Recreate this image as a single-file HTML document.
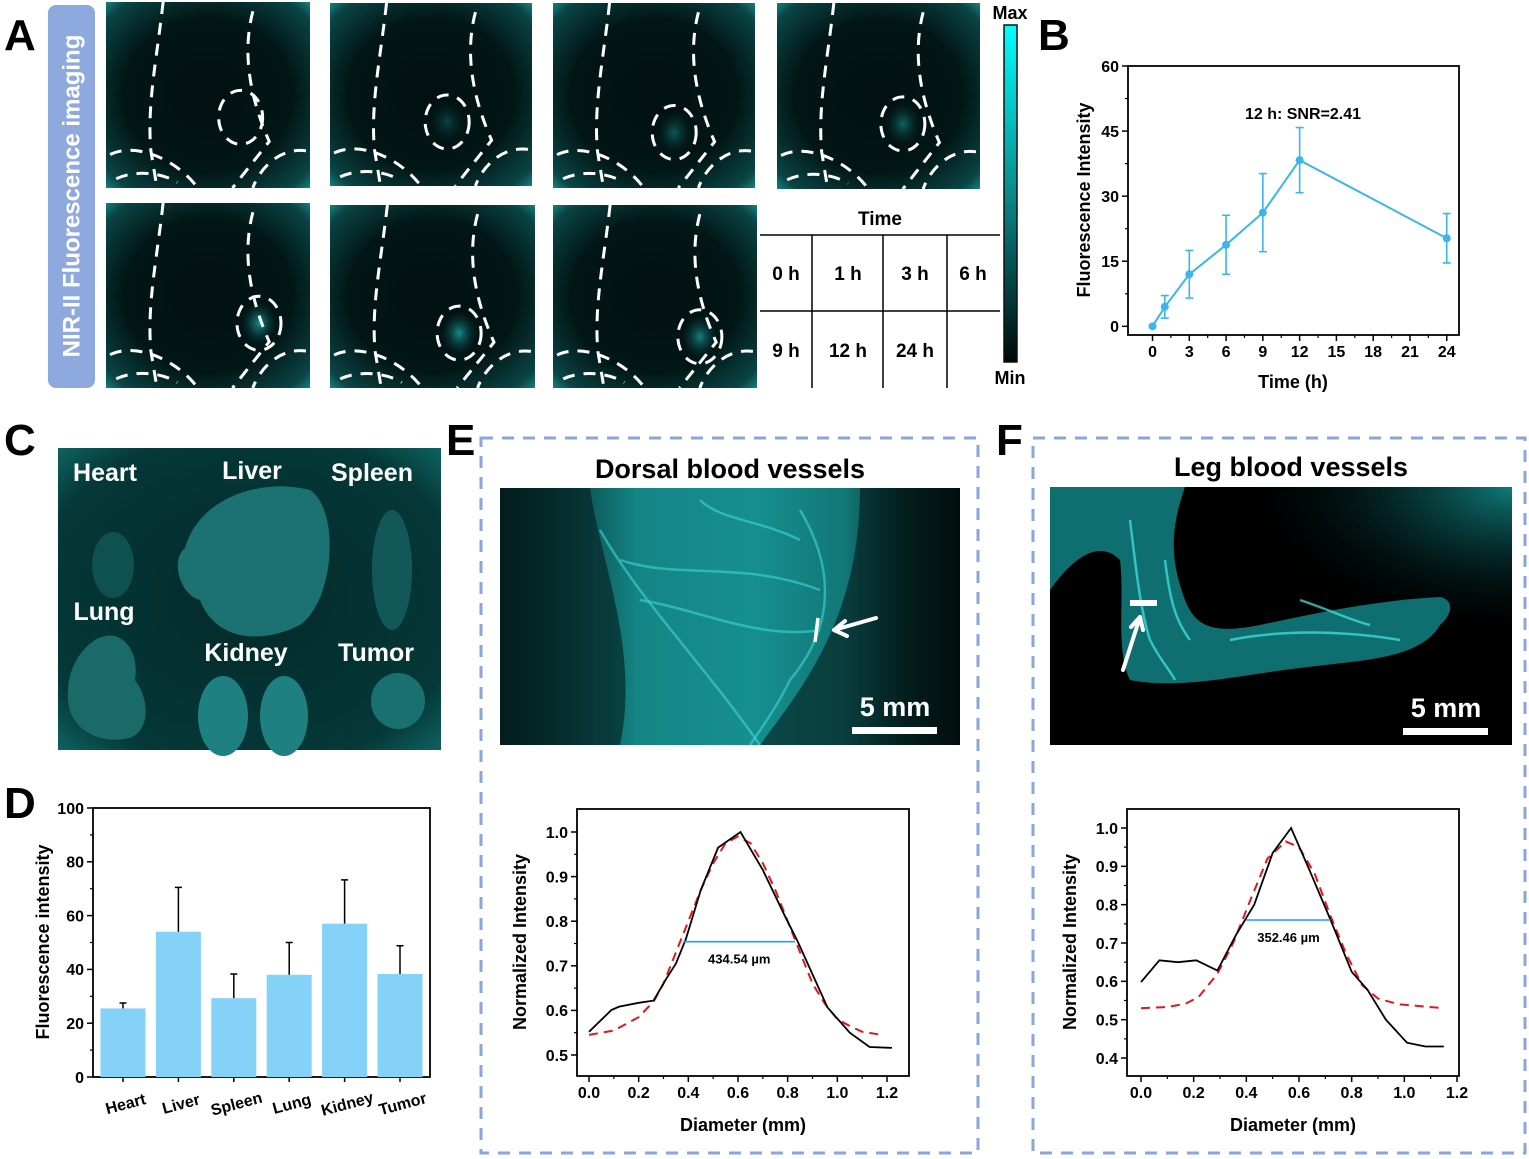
<!DOCTYPE html>
<html><head><meta charset="utf-8">
<style>
html,body{margin:0;padding:0;background:#fff;}
svg{display:block;font-family:"Liberation Sans",Arial,sans-serif;}
</style></head>
<body>
<svg id="fig" width="1529" height="1159" viewBox="0 0 1529 1159" xmlns="http://www.w3.org/2000/svg">
<defs>
  <radialGradient id="mouseGlow" cx="50%" cy="50%" r="75%">
    <stop offset="0" stop-color="#011010"/>
    <stop offset="0.55" stop-color="#021616"/>
    <stop offset="0.85" stop-color="#0a4444"/>
    <stop offset="1" stop-color="#19a8a8"/>
  </radialGradient>
  <radialGradient id="tumorGlow" cx="50%" cy="50%" r="50%">
    <stop offset="0" stop-color="#1a9a9a"/>
    <stop offset="1" stop-color="#0a3a3a" stop-opacity="0"/>
  </radialGradient>
  <linearGradient id="cbar" x1="0" y1="0" x2="0" y2="1">
    <stop offset="0" stop-color="#00ffff"/>
    <stop offset="0.5" stop-color="#0a8a8a"/>
    <stop offset="1" stop-color="#000808"/>
  </linearGradient>
  <radialGradient id="organBg" cx="50%" cy="50%" r="70%">
    <stop offset="0" stop-color="#032a2a"/>
    <stop offset="0.8" stop-color="#053838"/>
    <stop offset="1" stop-color="#0f6060"/>
  </radialGradient>
  <linearGradient id="dorsalBg" x1="0" y1="0" x2="1" y2="0">
    <stop offset="0" stop-color="#041e1e"/>
    <stop offset="0.15" stop-color="#0b4a4a"/>
    <stop offset="0.3" stop-color="#148585"/>
    <stop offset="0.55" stop-color="#168f8f"/>
    <stop offset="0.75" stop-color="#127777"/>
    <stop offset="0.88" stop-color="#073232"/>
    <stop offset="1" stop-color="#020c0c"/>
  </linearGradient>
  <radialGradient id="legCorner" cx="100%" cy="0%" r="60%">
    <stop offset="0" stop-color="#0f7a7a"/>
    <stop offset="1" stop-color="#000" stop-opacity="0"/>
  </radialGradient>
</defs>
<g id="root"></g>
</svg>
<script>
// ---------- Panel B data ----------
const timeHours = [0, 1, 3, 6, 9, 12, 24];
const timeIntensity = [0, 4.5, 12, 18.8, 26.2, 38.3, 20.3];
const timeError = [0, 2.6, 5.5, 6.8, 9, 7.5, 5.7];
const bXTicks = [0, 3, 6, 9, 12, 15, 18, 21, 24];
const bYTicks = [0, 15, 30, 45, 60];
// ---------- Panel D data ----------
const organNames = ["Heart", "Liver", "Spleen", "Lung", "Kidney", "Tumor"];
const organIntensity = [25.5, 54, 29.3, 38, 57, 38.3];
const organError = [2, 16.5, 9, 12, 16.3, 10.5];
const dYTicks = [0, 20, 40, 60, 80, 100];
// ---------- Panel E data ----------
const eDiam = [0, 0.09, 0.12, 0.2, 0.26, 0.31, 0.35, 0.39, 0.45, 0.52, 0.61, 0.7, 0.79, 0.84, 0.96, 1.05, 1.13, 1.22];
const eInt = [0.552, 0.601, 0.608, 0.617, 0.622, 0.67, 0.705, 0.76, 0.87, 0.965, 1.0, 0.915, 0.81, 0.755, 0.607, 0.55, 0.518, 0.516];
const eFitDiam = [0, 0.1, 0.2, 0.26, 0.3, 0.35, 0.4, 0.45, 0.5, 0.55, 0.6, 0.65, 0.7, 0.75, 0.8, 0.85, 0.9, 0.95, 1.0, 1.05, 1.1, 1.18];
const eFitInt = [0.545, 0.555, 0.585, 0.62, 0.66, 0.73, 0.8, 0.87, 0.93, 0.975, 0.99, 0.975, 0.93, 0.87, 0.8, 0.73, 0.66, 0.615, 0.58, 0.565, 0.552, 0.545];
const eFwhm = [0.38, 0.83, 0.754];
const eXTicks = [0, 0.2, 0.4, 0.6, 0.8, 1.0, 1.2];
const eYTicks = [0.5, 0.6, 0.7, 0.8, 0.9, 1.0];
// ---------- Panel F data ----------
const fDiam = [0, 0.07, 0.14, 0.21, 0.29, 0.36, 0.43, 0.5, 0.57, 0.64, 0.72, 0.8, 0.86, 0.93, 1.01, 1.08, 1.15];
const fInt = [0.598, 0.655, 0.65, 0.655, 0.628, 0.72, 0.8, 0.935, 1.0, 0.89, 0.76, 0.625, 0.578, 0.5, 0.44, 0.43, 0.43];
const fFitDiam = [0, 0.1, 0.17, 0.22, 0.29, 0.35, 0.42, 0.48, 0.55, 0.6, 0.66, 0.72, 0.78, 0.84, 0.9, 0.98, 1.15];
const fFitInt = [0.53, 0.533, 0.542, 0.56, 0.62, 0.7, 0.82, 0.92, 0.965, 0.95, 0.88, 0.77, 0.67, 0.59, 0.555, 0.54, 0.53];
const fFwhm = [0.4, 0.72, 0.76];
const fXTicks = [0, 0.2, 0.4, 0.6, 0.8, 1.0, 1.2];
const fYTicks = [0.4, 0.5, 0.6, 0.7, 0.8, 0.9, 1.0];

const NS = "http://www.w3.org/2000/svg";
const root = document.getElementById("root");
function mk(tag, attrs, parent) {
  const e = document.createElementNS(NS, tag);
  for (const k in attrs) e.setAttribute(k, attrs[k]);
  (parent || root).appendChild(e);
  return e;
}
function txt(s, attrs, parent) {
  const e = mk("text", attrs, parent);
  e.textContent = s;
  return e;
}
function lin(d0, d1, r0, r1) { return v => r0 + (v - d0) / (d1 - d0) * (r1 - r0); }
function fmt(v, dec) { return v.toFixed(dec); }

// ---------- panel letters ----------
const letters = [["A", 4, 50], ["B", 1038, 50], ["C", 4, 455], ["D", 4, 818], ["E", 446, 455], ["F", 996, 455]];
letters.forEach(l => {
  const t = txt(l[0], {x: l[1], y: l[2], "font-size": 44, "font-weight": "bold", fill: "#000"});
  
  
});

// ---------- Panel A ----------
const gA = mk("g", {});


const sideBar = mk("rect", {x: 48, y: 5, width: 47, height: 383, rx: 8, fill: "#8ea9dd"}, gA);


const sideTxt = txt("NIR-II Fluorescence imaging", {x: 72, y: 196, transform: "rotate(-90 72 196)", "text-anchor": "middle", "dominant-baseline": "central", "font-size": 24, "font-weight": "bold", fill: "#fff"}, gA);



const mice = [
  [106, 2, 204, 186, 0.66, 0.62, 0],
  [330, 3, 202, 183, 0.58, 0.65, 0.05],
  [553, 3, 202, 185, 0.6, 0.7, 0.2],
  [777, 3, 203, 186, 0.62, 0.65, 0.3],
  [106, 203, 204, 185, 0.75, 0.65, 0.6],
  [330, 205, 205, 183, 0.63, 0.7, 0.6],
  [553, 205, 204, 183, 0.72, 0.72, 0.5]
];
const mouseLabels = ["0h", "1h", "3h", "6h", "9h", "12h", "24h"];
mice.forEach((m, i) => {
  const [x, y, w, h, tx, ty, glow] = m;
  const g = mk("g", {}, gA);
  
  
  mk("rect", {x: x, y: y, width: w, height: h, fill: "url(#mouseGlow)"}, g);
  const cx = x + tx * w, cy = y + ty * h;
  if (glow > 0) mk("ellipse", {cx: cx, cy: cy, rx: 18, ry: 22, fill: "url(#tumorGlow)", opacity: glow + 0.3}, g);
  const dash = {fill: "none", stroke: "#fff", "stroke-width": 3, "stroke-dasharray": "12 9"};
  mk("path", Object.assign({d: `M${x+w*0.28} ${y} C${x+w*0.25} ${y+h*0.3} ${x+w*0.2} ${y+h*0.55} ${x+w*0.22} ${y+h*0.8} L${x+w*0.25} ${y+h}`}, dash), g);
  mk("path", Object.assign({d: `M${x+w*0.72} ${y+h*0.05} C${x+w*0.66} ${y+h*0.3} ${x+w*0.72} ${y+h*0.55} ${x+w*0.8} ${y+h*0.75} L${x+w*0.62} ${y+h}`}, dash), g);
  mk("path", Object.assign({d: `M${x+w*0.02} ${y+h*0.82} C${x+w*0.15} ${y+h*0.75} ${x+w*0.35} ${y+h*0.85} ${x+w*0.45} ${y+h}`}, dash), g);
  mk("path", Object.assign({d: `M${x+w*0.98} ${y+h*0.8} C${x+w*0.85} ${y+h*0.78} ${x+w*0.75} ${y+h*0.9} ${x+w*0.72} ${y+h}`}, dash), g);
  mk("path", Object.assign({d: `M${x+w*0.05} ${y+h*0.95} C${x+w*0.15} ${y+h*0.9} ${x+w*0.28} ${y+h*0.92} ${x+w*0.35} ${y+h*0.97}`}, dash), g);
  mk("ellipse", Object.assign({cx: cx, cy: cy, rx: 22, ry: 27}, dash), g);
});
const gT = mk("g", {}, gA);


txt("Time", {x: 880, y: 225, "text-anchor": "middle", "font-size": 19, "font-weight": "bold"}, gT);
mk("line", {x1: 760, y1: 235, x2: 1000, y2: 235, stroke: "#000", "stroke-width": 1.5}, gT);
mk("line", {x1: 760, y1: 311, x2: 1000, y2: 311, stroke: "#000", "stroke-width": 1.5}, gT);
[812, 883, 947].forEach(vx => mk("line", {x1: vx, y1: 235, x2: vx, y2: 388, stroke: "#000", "stroke-width": 1.5}, gT));
[["0 h", 786, 280], ["1 h", 848, 280], ["3 h", 915, 280], ["6 h", 973, 280], ["9 h", 786, 357], ["12  h", 848, 357], ["24 h", 915, 357]].forEach(c => {
  const t = txt(c[0], {x: c[1], y: c[2], "text-anchor": "middle", "font-size": 19, "font-weight": "bold", "xml:space": "preserve"}, gT);
  
  
});
const cb = mk("rect", {x: 1004, y: 25, width: 13, height: 337, fill: "url(#cbar)", stroke: "#111", "stroke-width": 1.5});


const cbMax = txt("Max", {x: 1010, y: 19, "text-anchor": "middle", "font-size": 18, "font-weight": "bold"});


const cbMin = txt("Min", {x: 1010, y: 384, "text-anchor": "middle", "font-size": 18, "font-weight": "bold"});



function frame(g, L, T, R, B) {
  const f = mk("rect", {x: L, y: T, width: R - L, height: B - T, fill: "none", stroke: "#000", "stroke-width": 1.8}, g);
  
  
}
function yAxis(g, ticks, sy, L, dec, fs, minor) {
  ticks.forEach(v => {
    mk("line", {x1: L - 6, y1: sy(v), x2: L, y2: sy(v), stroke: "#000", "stroke-width": 1.5}, g);
    const t = txt(fmt(v, dec), {x: L - 9, y: sy(v) + fs * 0.36, "text-anchor": "end", "font-size": fs, "font-weight": "bold"}, g);
    
    
  });
  if (minor) for (let i = 0; i < ticks.length - 1; i++) {
    const m = (ticks[i] + ticks[i + 1]) / 2;
    mk("line", {x1: L - 3, y1: sy(m), x2: L, y2: sy(m), stroke: "#000", "stroke-width": 1.2}, g);
  }
}
function xAxis(g, ticks, sx, B, dec, fs, minor) {
  ticks.forEach(v => {
    mk("line", {x1: sx(v), y1: B, x2: sx(v), y2: B + 6, stroke: "#000", "stroke-width": 1.5}, g);
    const t = txt(fmt(v, dec), {x: sx(v), y: B + 6 + fs, "text-anchor": "middle", "font-size": fs, "font-weight": "bold"}, g);
    
    
  });
  if (minor) for (let i = 0; i < ticks.length - 1; i++) {
    const m = (ticks[i] + ticks[i + 1]) / 2;
    mk("line", {x1: sx(m), y1: B, x2: sx(m), y2: B + 3, stroke: "#000", "stroke-width": 1.2}, g);
  }
}
function pathOf(xs, ys, sx, sy) {
  return xs.map((v, i) => (i ? "L" : "M") + sx(v).toFixed(1) + " " + sy(ys[i]).toFixed(1)).join(" ");
}

// ---------- Panel B ----------
(function () {
  const g = mk("g", {});
  
  
  const L = 1128, R = 1459, T = 66, B = 335;
  const sx = lin(-2, 25, L, R), sy = lin(-2, 60, B, T);
  frame(g, L, T, R, B);
  yAxis(g, bYTicks, sy, L, 0, 16, true);
  xAxis(g, bXTicks, sx, B, 0, 16, true);
  const yt = txt("Fluorescence Intensity", {x: 1090, y: 200, transform: "rotate(-90 1090 200)", "text-anchor": "middle", "font-size": 18, "font-weight": "bold"}, g);
  
  
  const xt = txt("Time (h)", {x: 1293, y: 388, "text-anchor": "middle", "font-size": 18, "font-weight": "bold"}, g);
  
  
  const ann = txt("12 h: SNR=2.41", {x: 1303, y: 119, "text-anchor": "middle", "font-size": 16, "font-weight": "bold"}, g);
  
  
  const ln = mk("path", {d: pathOf(timeHours, timeIntensity, sx, sy), fill: "none", stroke: "#3bb6ec", "stroke-width": 2}, g);
  
  
  timeHours.forEach((h, i) => {
    const x = sx(h), y0 = sy(timeIntensity[i] - timeError[i]), y1 = sy(timeIntensity[i] + timeError[i]);
    if (timeError[i] > 0) {
      const eb = mk("path", {d: `M${x} ${y0} L${x} ${y1} M${x-4} ${y0} L${x+4} ${y0} M${x-4} ${y1} L${x+4} ${y1}`, stroke: "#3bb6ec", "stroke-width": 1.6, fill: "none"}, g);
      
      
    }
    const p = mk("circle", {cx: x, cy: sy(timeIntensity[i]), r: 4, fill: "#3bb6ec"}, g);
    
    
  });
})();

// ---------- Panel C ----------
(function () {
  const g = mk("g", {});
  
  
  mk("rect", {x: 58, y: 448, width: 383, height: 302, fill: "url(#organBg)"}, g);
  const oc = "#1c7272";
  const organs = [
    ["heart", "ellipse", {cx: 113, cy: 565, rx: 21, ry: 33, fill: "#0f5050"}],
    ["liver", "path", {d: "M185 548 C200 495 265 478 310 490 C340 510 335 600 300 625 C260 645 215 640 200 600 C180 595 170 560 185 548 Z", fill: oc}],
    ["spleen", "ellipse", {cx: 392, cy: 570, rx: 20, ry: 60, fill: "#125858"}],
    ["lung", "path", {d: "M95 640 C120 625 140 650 135 680 C150 700 150 730 130 738 C100 745 70 730 68 700 C66 670 80 650 95 640 Z", fill: "#1a6a6a"}],
    ["kidney-left", "ellipse", {cx: 223, cy: 716, rx: 25, ry: 40, fill: "#1e8080"}],
    ["kidney-right", "ellipse", {cx: 284, cy: 716, rx: 24, ry: 40, fill: "#1e8080"}],
    ["tumor", "ellipse", {cx: 398, cy: 701, rx: 27, ry: 28, fill: "#1a7070"}]
  ];
  organs.forEach(o => {
    const e = mk(o[1], o[2], g);
    
    
  });
  [["Heart", 105, 481], ["Liver", 252, 479], ["Spleen", 372, 481], ["Lung", 104, 620], ["Kidney", 246, 661], ["Tumor", 376, 661]].forEach(l => {
    const t = txt(l[0], {x: l[1], y: l[2], "text-anchor": "middle", "font-size": 25, "font-weight": "bold", fill: "#fff"}, g);
    
    
  });
})();

// ---------- Panel D ----------
(function () {
  const g = mk("g", {});
  
  
  const L = 93, R = 430, T = 808, B = 1077;
  const sy = lin(0, 100, B, T);
  const step = 55.4, x0 = 123;
  const sx = i => x0 + i * step;
  frame(g, L, T, R, B);
  yAxis(g, dYTicks, sy, L, 0, 16, true);
  organNames.forEach((n, i) => {
    const x = sx(i), top = sy(organIntensity[i]);
    const b = mk("rect", {x: x - 22.5, y: top, width: 45, height: B - top, fill: "#84d2f7"}, g);
    
    
    const ye = sy(organIntensity[i] + organError[i]);
    const eb = mk("path", {d: `M${x} ${top} L${x} ${ye} M${x-3.5} ${ye} L${x+3.5} ${ye}`, stroke: "#000", "stroke-width": 1.5, fill: "none"}, g);
    
    
    mk("line", {x1: x, y1: B, x2: x, y2: B + 5, stroke: "#000", "stroke-width": 1.5}, g);
    const t = txt(n, {x: x + 4, y: B + 32, transform: `rotate(-15 ${x + 4} ${B + 32})`, "text-anchor": "middle", "font-size": 16, "font-weight": "bold"}, g);
    
    
  });
  const yt = txt("Fluorescence intensity", {x: 49, y: 942, transform: "rotate(-90 49 942)", "text-anchor": "middle", "font-size": 18, "font-weight": "bold"}, g);
  
  
})();

[["panel-e-box", 481, 438, 497, 715], ["panel-f-box", 1033, 438, 492, 715]].forEach(b => {
  const r = mk("rect", {x: b[1], y: b[2], width: b[3], height: b[4], fill: "none", stroke: "#8aa6dc", "stroke-width": 3, "stroke-dasharray": "12 9"});
  
  
});

// ---------- Panel E image ----------
(function () {
  const g = mk("g", {});
  
  
  const ti = txt("Dorsal blood vessels", {x: 730, y: 478, "text-anchor": "middle", "font-size": 27, "font-weight": "bold"});
  
  
  mk("rect", {x: 500, y: 488, width: 460, height: 257, fill: "url(#dorsalBg)"}, g);
  mk("path", {d: "M500 488 L590 488 C600 560 640 650 620 745 L500 745 Z", fill: "#041c1c", opacity: 0.6}, g);
  mk("path", {d: "M860 488 L960 488 L960 745 L760 745 C800 690 860 620 860 488 Z", fill: "#020e0e", opacity: 0.55}, g);
  const vs = {fill: "none", stroke: "#3fd6d6", "stroke-width": 2.5, opacity: 0.6};
  ["M600 530 C640 600 700 660 760 745", "M620 560 C680 580 740 560 820 590", "M800 510 C830 560 840 620 790 680 C775 710 760 730 750 745", "M640 600 C700 610 760 640 820 630", "M700 500 C720 520 760 520 800 540"].forEach(d => mk("path", Object.assign({d: d}, vs), g));
  mk("line", {x1: 818, y1: 618, x2: 815, y2: 642, stroke: "#fff", "stroke-width": 3.5}, g);
  const ar = mk("path", {d: "M876 618 L834 630 M834 630 L845 621 M834 630 L847 636", stroke: "#fff", "stroke-width": 4, fill: "none", "stroke-linecap": "round"}, g);
  
  
  mk("rect", {x: 852, y: 727, width: 85, height: 7, fill: "#fff"}, g);
  const sb = txt("5 mm", {x: 895, y: 716, "text-anchor": "middle", "font-size": 27, "font-weight": "bold", fill: "#fff"}, g);
  
  
})();

// ---------- Panel F image ----------
(function () {
  const g = mk("g", {});
  
  
  const ti = txt("Leg blood vessels", {x: 1291, y: 476, "text-anchor": "middle", "font-size": 27, "font-weight": "bold"});
  
  
  mk("rect", {x: 1050, y: 487, width: 462, height: 258, fill: "#000"}, g);
  mk("rect", {x: 1050, y: 487, width: 462, height: 258, fill: "url(#legCorner)"}, g);
  mk("path", {d: "M1050 487 L1185 487 C1170 530 1170 560 1185 600 C1195 625 1210 635 1260 625 C1320 612 1380 600 1440 597 C1455 600 1452 615 1440 625 C1420 660 1360 660 1300 668 C1240 675 1180 690 1130 680 C1115 650 1125 600 1120 560 C1100 540 1075 555 1050 590 Z", fill: "#0f6f70"}, g);
  const vs = {fill: "none", stroke: "#40e0e0", "stroke-width": 2.5, opacity: 0.75};
  ["M1130 520 C1135 560 1140 610 1150 640 C1160 660 1170 670 1175 680", "M1165 560 C1170 600 1175 620 1190 640", "M1300 600 C1330 610 1350 620 1370 625", "M1230 640 C1280 630 1340 630 1400 640"].forEach(d => mk("path", Object.assign({d: d}, vs), g));
  mk("rect", {x: 1130, y: 600, width: 27, height: 6, fill: "#fff"}, g);
  const ar = mk("path", {d: "M1123 670 L1140 617 M1140 617 L1131 627 M1140 617 L1143 630", stroke: "#fff", "stroke-width": 4, fill: "none", "stroke-linecap": "round"}, g);
  
  
  mk("rect", {x: 1403, y: 728, width: 85, height: 7, fill: "#fff"}, g);
  const sb = txt("5 mm", {x: 1446, y: 717, "text-anchor": "middle", "font-size": 27, "font-weight": "bold", fill: "#fff"}, g);
  
  
})();

function profile(name, L, R, T, B, xd, yd, xs, ys, fxs, fys, fw, label, xT, yT, ytx) {
  const g = mk("g", {});
  
  
  const sx = lin(xd[0], xd[1], xd[2], xd[3]), sy = lin(yd[0], yd[1], yd[2], yd[3]);
  frame(g, L, T, R, B);
  yAxis(g, yT, sy, L, 1, 16, true);
  xAxis(g, xT, sx, B, 1, 16, true);
  const fit = mk("path", {d: pathOf(fxs, fys, sx, sy), fill: "none", stroke: "#e8141c", "stroke-width": 2, "stroke-dasharray": "9 6"}, g);
  
  
  const raw = mk("path", {d: pathOf(xs, ys, sx, sy), fill: "none", stroke: "#000", "stroke-width": 1.8}, g);
  
  
  const fl = mk("line", {x1: sx(fw[0]), y1: sy(fw[2]), x2: sx(fw[1]), y2: sy(fw[2]), stroke: "#1aa0f0", "stroke-width": 1.6}, g);
  
  
  const lt = txt(label, {x: sx((fw[0] + fw[1]) / 2), y: sy(fw[2]) + 22, "text-anchor": "middle", "font-size": 13, "font-weight": "bold"}, g);
  
  
  const yt = txt("Normalized Intensity", {x: ytx, y: 942, transform: `rotate(-90 ${ytx} 942)`, "text-anchor": "middle", "font-size": 18, "font-weight": "bold"}, g);
  
  
  const xtt = txt("Diameter (mm)", {x: (L + R) / 2, y: 1131, "text-anchor": "middle", "font-size": 18, "font-weight": "bold"}, g);
  
  
}
profile("panel-e-profile-chart", 577, 909, 809, 1076, [0, 1.2, 589, 887], [0.5, 1.0, 1055, 832],
  eDiam, eInt, eFitDiam, eFitInt, eFwhm, "434.54 µm", eXTicks, eYTicks, 526);
profile("panel-f-profile-chart", 1127, 1459, 809, 1076, [0, 1.2, 1141, 1457], [0.4, 1.0, 1058, 828],
  fDiam, fInt, fFitDiam, fFitInt, fFwhm, "352.46 µm", fXTicks, fYTicks, 1076);
</script>
</body></html>
